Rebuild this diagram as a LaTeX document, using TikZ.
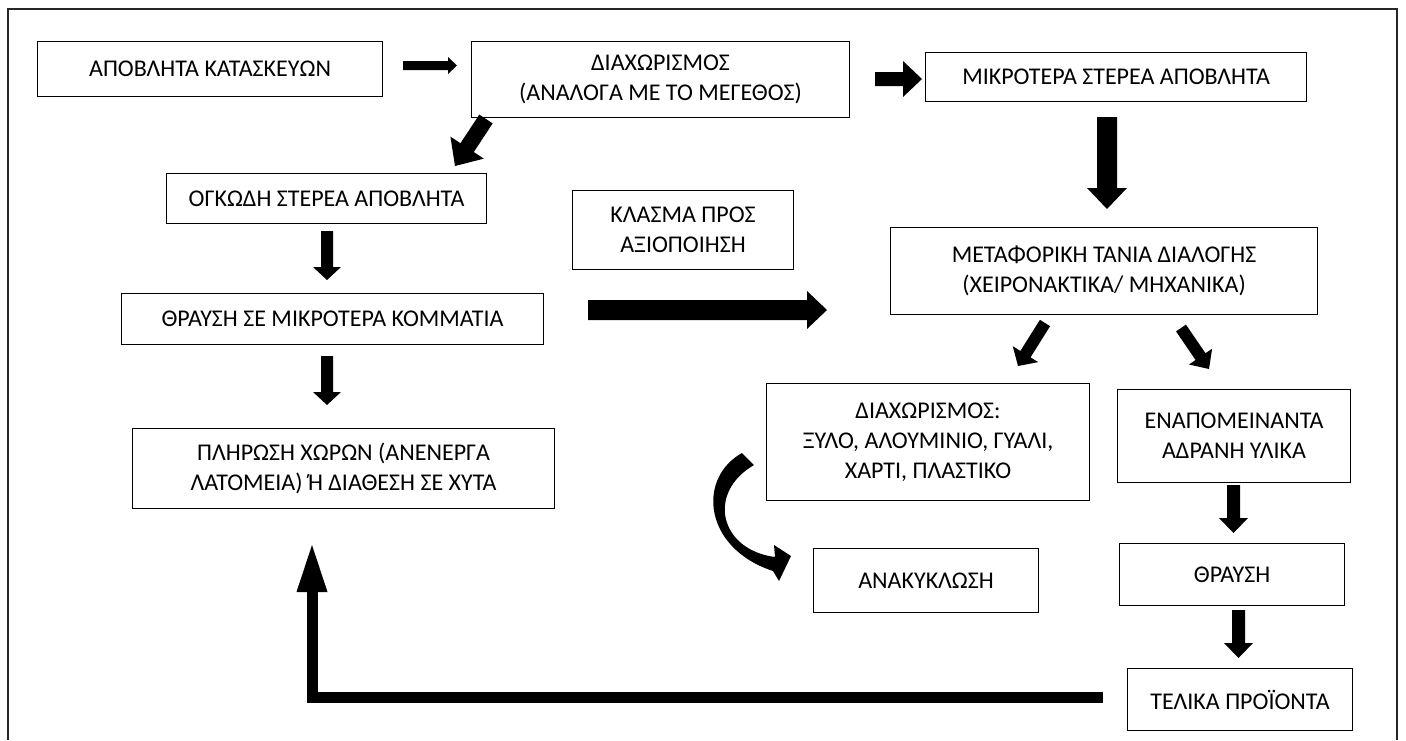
\documentclass[tikz,border=0pt]{standalone}
\usepackage{fontspec}
\setmainfont{Carlito}
\usetikzlibrary{calc}

% Filled block arrow: from #1 to #2, shaft half-width #3, head half-width #4, head length #5
\newcommand\blockarrow[5]{%
  \coordinate (ba-neck) at ($(#2)!#5!(#1)$);
  \fill ($(#1)!#3!90:(#2)$) -- ($(ba-neck)!#3!90:(#2)$) -- ($(ba-neck)!#4!90:(#2)$) -- (#2)
     -- ($(ba-neck)!#4!-90:(#2)$) -- ($(ba-neck)!#3!-90:(#2)$) -- ($(#1)!#3!-90:(#2)$) -- cycle;}

\begin{document}
\begin{tikzpicture}[x=1pt,y=-1pt,
  box/.style={draw=black, line width=1.1pt, anchor=north west, inner sep=0pt,
              align=center, font=\fontsize{24}{30}\selectfont},
  frame/.style={draw=black!85, line width=1.6pt}]
\useasboundingbox (0,0) rectangle (1406,740);

% outer frame (open at the bottom)
\draw[frame] (8,740) -- (8,9) -- (1397,9) -- (1397,740);

% process boxes
\node[box, minimum width=345pt, minimum height=55pt] (b1) at (37,41) {ΑΠΟΒΛΗΤΑ ΚΑΤΑΣΚΕΥΩΝ};
\node[box, minimum width=378pt, minimum height=76pt] (b2) at (471,41) {ΔΙΑΧΩΡΙΣΜΟΣ\\(ΑΝΑΛΟΓΑ ΜΕ ΤΟ ΜΕΓΕΘΟΣ)};
\node[box, minimum width=381pt, minimum height=49pt] (b3) at (925,52) {ΜΙΚΡΟΤΕΡΑ ΣΤΕΡΕΑ ΑΠΟΒΛΗΤΑ};
\node[box, minimum width=320pt, minimum height=50pt] (b4) at (166,173) {ΟΓΚΩΔΗ ΣΤΕΡΕΑ ΑΠΟΒΛΗΤΑ};
\node[box, minimum width=422pt, minimum height=51pt] (b5) at (121,293) {ΘΡΑΥΣΗ ΣΕ ΜΙΚΡΟΤΕΡΑ ΚΟΜΜΑΤΙΑ};
\node[box, minimum width=422pt, minimum height=80pt] (b6) at (132,428) {ΠΛΗΡΩΣΗ ΧΩΡΩΝ (ΑΝΕΝΕΡΓΑ\\ΛΑΤΟΜΕΙΑ) Ή ΔΙΑΘΕΣΗ ΣΕ ΧΥΤΑ};
\node[box, minimum width=221pt, minimum height=79pt] (b7) at (572,190) {ΚΛΑΣΜΑ ΠΡΟΣ\\ΑΞΙΟΠΟΙΗΣΗ};
\node[box, minimum width=427pt, minimum height=87pt] (b8) at (890,227) {ΜΕΤΑΦΟΡΙΚΗ ΤΑΝΙΑ ΔΙΑΛΟΓΗΣ\\(ΧΕΙΡΟΝΑΚΤΙΚΑ/ ΜΗΧΑΝΙΚΑ)};
\node[box, minimum width=323pt, minimum height=117pt] (b9) at (766,383) {ΔΙΑΧΩΡΙΣΜΟΣ:\\ΞΥΛΟ, ΑΛΟΥΜΙΝΙΟ, ΓΥΑΛΙ,\\ΧΑΡΤΙ, ΠΛΑΣΤΙΚΟ};
\node[box, minimum width=233pt, minimum height=93pt] (b10) at (1117,389) {ΕΝΑΠΟΜΕΙΝΑΝΤΑ\\ΑΔΡΑΝΗ ΥΛΙΚΑ};
\node[box, minimum width=225pt, minimum height=62pt] (b11) at (1119,543) {ΘΡΑΥΣΗ};
\node[box, minimum width=225pt, minimum height=64pt] (b12) at (813,548) {ΑΝΑΚΥΚΛΩΣΗ};
\node[box, minimum width=225pt, minimum height=62pt] (b13) at (1127,668) {ΤΕΛΙΚΑ ΠΡΟΪΟΝΤΑ};

% arrow end points
\coordinate (a1s) at (403,65.5);  \coordinate (a1e) at (457,65.5);
\coordinate (a2s) at (875,79);    \coordinate (a2e) at (922,79);
\coordinate (a3s) at (1107,117);  \coordinate (a3e) at (1107,209);
\coordinate (a4s) at (486,119);   \coordinate (a4e) at (455,166);
\coordinate (a5s) at (327,231);   \coordinate (a5e) at (327,280);
\coordinate (a6s) at (327,356);   \coordinate (a6e) at (327,405);
\coordinate (a7s) at (588,310);   \coordinate (a7e) at (827,310);
\coordinate (a8s) at (1045,323);  \coordinate (a8e) at (1018,366);
\coordinate (a9s) at (1181,328);  \coordinate (a9e) at (1209,369);
\coordinate (a10s) at (1233.5,485); \coordinate (a10e) at (1233.5,533);
\coordinate (a11s) at (1238.5,610); \coordinate (a11e) at (1238.5,658);

\blockarrow{a1s}{a1e}{4.5pt}{8.5pt}{9pt}
\blockarrow{a2s}{a2e}{7pt}{18pt}{19pt}
\blockarrow{a3s}{a3e}{10pt}{20pt}{21pt}
\blockarrow{a4s}{a4e}{8pt}{20pt}{22pt}
\blockarrow{a5s}{a5e}{6pt}{14pt}{13pt}
\blockarrow{a6s}{a6e}{6pt}{14pt}{13pt}
\blockarrow{a7s}{a7e}{10pt}{19pt}{20pt}
\blockarrow{a8s}{a8e}{6pt}{15pt}{14pt}
\blockarrow{a9s}{a9e}{6pt}{14pt}{15pt}
\blockarrow{a10s}{a10e}{6.5pt}{14.5pt}{15pt}
\blockarrow{a11s}{a11e}{6.5pt}{14.5pt}{15pt}

% return path back to landfill
\coordinate (ret-s) at (1103,697.5);
\coordinate (ret-tip) at (312,545);
\draw[line width=11pt] (ret-s) -| ($(ret-tip)+(0,46)$);
\fill (ret-tip) -- ($(ret-tip)+(15.5,47)$) -- ($(ret-tip)+(-15.5,47)$) -- cycle;

% curved recycling arrow
\fill (742,453) .. controls (697,478) and (703,548) .. (773,571)
   -- (779,581) -- (791,556) -- (774,545) -- (775,557)
   .. controls (720,550) and (706,493) .. (754,465) -- cycle;
\end{tikzpicture}
\end{document}
